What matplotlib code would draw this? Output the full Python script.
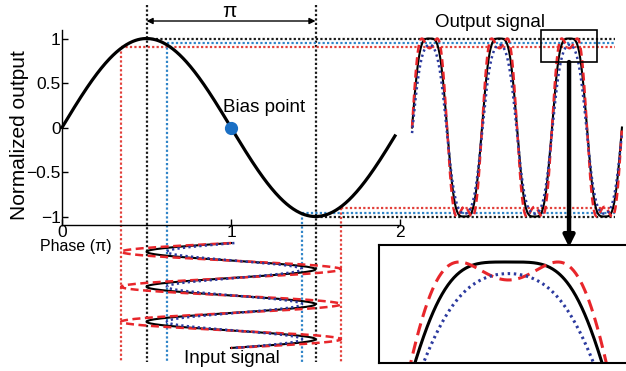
import numpy as np
import matplotlib
matplotlib.use("Agg")
import matplotlib.pyplot as plt
from matplotlib.patches import Rectangle

plt.rcParams["font.family"] = ["Liberation Sans", "DejaVu Sans"]

# ── values ───────────────────────────────────────────────────────────
x_ticks = [0, 1, 2]
y_ticks = [-1, -0.5, 0, 0.5, 1]
y_tick_labels = ["\u22121", "\u22120.5", "0", "0.5", "1"]
bias_point = (1.0, 0.0)
curve_end = 1.97                       # transfer curve stops just short of 2

# drive signals: black (nominal), blue (under-driven), red (over-driven)
trace_names  = ["black", "red", "blue"]
trace_centre = [1.0, 1.0, 1.02]        # phase of bias
trace_amp    = [0.5, 0.65, 0.4]        # phase swing
top_levels    = [1.0, 0.90, 0.946]     # horizontal guides (output max)
bottom_levels = [-1.0, -0.90, -0.96]   # horizontal guides (output min)
left_edges    = [0.5, 0.35, 0.62]      # vertical guides (input min)
right_edges   = [1.5, 1.65, 1.42]      # vertical guides (input max)

# time axes of the drawn signals (3 periods each)
n_periods = 3
input_start, input_period = -1.298, 0.393     # input drawn downwards
output_start, output_period = 2.071, 0.414    # output drawn rightwards

# zoom box on the third output peak
zoom_box = (2.834, 0.736, 0.332, 0.36)

# ── styles ──────────────────────────────────────────────────────────
sig_color = {"black": "black", "red": "#e8262b", "blue": "#2c3a9f"}
sig_ls = {"black": "-", "red": (0, (3.2, 1.8)), "blue": (0, (0.9, 1.3))}
guide_color = {"black": "#1a1a1a", "red": "#e2403a", "blue": "#2f84c8"}
guide_ls = (0, (1, 1))
guide_top, guide_bottom, guide_right = 1.376, -2.635, 3.272


def transfer(phase):
    return np.sin(np.pi * phase)


fig = plt.figure(figsize=(6.26, 3.71), dpi=100)
ax = fig.add_axes([0, 0, 1, 1])
ax.set_xlim(-0.367, 3.337)
ax.set_ylim(-2.736, 1.433)
ax.patch.set_alpha(0)

# axes lines
for s in ["top", "right"]:
    ax.spines[s].set_visible(False)
ax.spines["left"].set_position(("data", 0))
ax.spines["bottom"].set_position(("data", -1.095))
ax.spines["left"].set_bounds(-1.095, 1.1)
ax.spines["bottom"].set_bounds(0, 2)
for s in ["left", "bottom"]:
    ax.spines[s].set_linewidth(1.0)
ax.set_xticks(x_ticks)
ax.set_xticklabels([str(t) for t in x_ticks])
ax.set_yticks(y_ticks)
ax.set_yticklabels(y_tick_labels)
ax.tick_params(direction="in", length=4, width=1, labelsize=12.5, pad=1)
ax.tick_params(axis="x", pad=0)

# ── guide lines ─────────────────────────────────────────────────────
for name, top, bot, lft, rgt in zip(trace_names, top_levels, bottom_levels,
                                    left_edges, right_edges):
    c = guide_color[name]
    kw = dict(color=c, ls=guide_ls, lw=1.6, zorder=1)
    ax.plot([lft, guide_right], [top, top], **kw)
    ax.plot([rgt, guide_right], [bot, bot], **kw)
    if name == "black":
        ax.plot([lft, lft], [guide_top, guide_bottom], **kw)
        ax.plot([rgt, rgt], [guide_top, guide_bottom], **kw)
    else:
        ax.plot([lft, lft], [top, guide_bottom], **kw)
        ax.plot([rgt, rgt], [bot, guide_bottom], **kw)

# ── transfer curve and bias point ───────────────────────────────────
phase = np.linspace(0, curve_end, 400)
ax.plot(phase, transfer(phase), color="black", lw=2.3, zorder=4)
ax.plot(*bias_point, "o", color="#1a6fc4", ms=8.5, zorder=5)

# ── input and output signals ────────────────────────────────────────
s = np.linspace(0, n_periods, 900)
theta = 2 * np.pi * s
for name, c0, amp in zip(trace_names, trace_centre, trace_amp):
    kw = dict(color=sig_color[name], ls=sig_ls[name], zorder=3,
              lw=1.5 if name == "black" else 1.8)
    drive = c0 - amp * np.sin(theta)
    ax.plot(drive, input_start - s * input_period, **kw)
    ax.plot(output_start + s * output_period, transfer(drive), **kw)

# zoom box and arrow
bx, by, bw, bh = zoom_box
ax.add_patch(Rectangle((bx, by), bw, bh, fill=False, lw=1.2,
                       ec="black", zorder=6))
ax.annotate("", xy=(bx + bw / 2, -1.343), xytext=(bx + bw / 2, by),
            arrowprops=dict(arrowstyle="-|>", lw=3.2, color="black",
                            mutation_scale=16, shrinkA=0, shrinkB=0),
            zorder=6)

# π span arrow
ax.annotate("", xy=(0.5, 1.197), xytext=(1.5, 1.197),
            arrowprops=dict(arrowstyle="<|-|>", lw=1.0, color="black",
                            mutation_scale=9, shrinkA=0, shrinkB=0))
ax.text(0.988, 1.30, "\u03c0", fontsize=15, ha="center", va="center")

# labels
ax.text(-0.25, -0.08, "Normalized output", rotation=90, fontsize=15,
        ha="center", va="center")
ax.text(0.08, -1.335, "Phase (\u03c0)", fontsize=11.5, ha="center",
        va="center")
ax.text(1.195, 0.23, "Bias point", fontsize=13.5, ha="center",
        va="center")
ax.text(2.533, 1.185, "Output signal", fontsize=13.5, ha="center",
        va="center")
ax.text(1.006, -2.59, "Input signal", fontsize=13.5, ha="center",
        va="center")

# ── inset: zoom on output peak ──────────────────────────────────────
ins = fig.add_axes([379 / 626, 8 / 371, (640 - 379) / 626, 118 / 371])
ins.set_xlim(-0.248, 3.418)
ins.set_ylim(0.388, 1.103)
ins.set_xticks([])
ins.set_yticks([])
ins.spines["right"].set_visible(False)
for sp in ["left", "top", "bottom"]:
    ins.spines[sp].set_linewidth(1.5)
th = np.linspace(-0.4, np.pi + 0.6, 400)
for name, c0, amp in zip(trace_names, trace_centre, trace_amp):
    ls = {"black": "-", "red": (0, (4, 2.2)), "blue": (0, (0.8, 1.2))}[name]
    ins.plot(th, transfer(c0 - amp * np.sin(th)), color=sig_color[name],
             ls=ls, lw=2.2)

fig.savefig("out.png", dpi=100)
